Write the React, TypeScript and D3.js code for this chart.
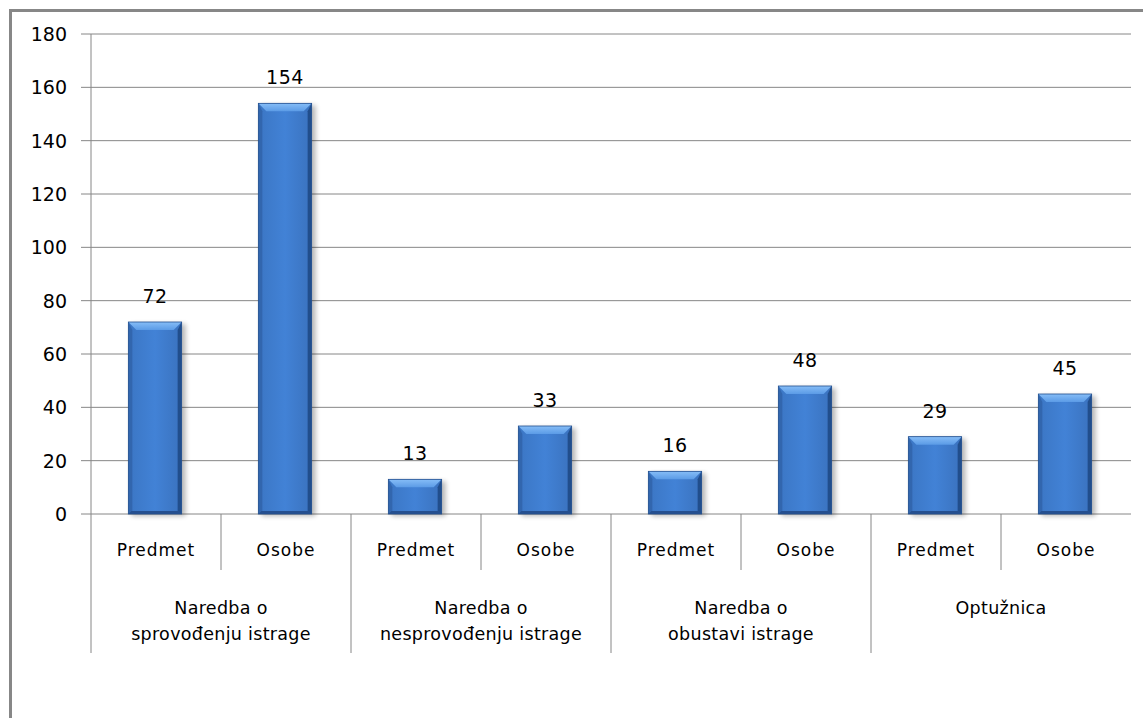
import React from "react";
import * as d3 from "d3";

const groups = ["Naredba o\nsprovođenju istrage", "Naredba o\nnesprovođenju istrage", "Naredba o\nobustavi istrage", "Optužnica"];
const subLabels = ["Predmet", "Osobe"];
const predmetValues = [72, 13, 16, 29];
const osobeValues = [154, 33, 48, 45];
const yTicks = [0, 20, 40, 60, 80, 100, 120, 140, 160, 180];

const W = 1143, H = 718;
const left = 91, right = 1131, top = 34, bottom = 514;
const FONT = "'DejaVu Sans', sans-serif";

export default function App() {
  const items: { key: string; group: number; sub: number; value: number }[] = [];
  groups.forEach((g, gi) => {
    [predmetValues[gi], osobeValues[gi]].forEach((v, si) => {
      items.push({ key: `${gi}-${si}`, group: gi, sub: si, value: v });
    });
  });
  const x = d3.scaleBand<string>().domain(items.map((d) => d.key)).range([left, right]).paddingInner(0.59).paddingOuter(0.295);
  const gx = d3.scaleBand<number>().domain(groups.map((_, i) => i)).range([left, right]);
  const y = d3.scaleLinear().domain([0, 180]).range([bottom, top]);
  const bw = x.bandwidth();
  const grid = "#868686";
  const bev = 8;

  return (
    <svg width={W} height={H} style={{ position: "absolute", left: 0, top: 0, background: "#fff" }}>
      <defs>
        <linearGradient id="barg" x1="0" x2="1" y1="0" y2="0">
          <stop offset="0" stopColor="#3b76c4" />
          <stop offset="0.5" stopColor="#4282d6" />
          <stop offset="1" stopColor="#3a72be" />
        </linearGradient>
        <linearGradient id="topg" x1="0" x2="0" y1="0" y2="1">
          <stop offset="0" stopColor="#86bdf7" />
          <stop offset="1" stopColor="#5b9be6" />
        </linearGradient>
        <filter id="sh" x="-30%" y="-10%" width="160%" height="130%">
          <feGaussianBlur stdDeviation="2.5" />
        </filter>
      </defs>
      <rect x={0} y={0} width={W} height={H} fill="#fff" />
      <rect x={10.5} y={10.5} width={1300} height={900} fill="none" stroke="#878787" strokeWidth={3} />
      {yTicks.map((t) => (
        <g key={t}>
          {t > 0 && <line x1={left} x2={right} y1={y(t)} y2={y(t)} stroke={grid} strokeWidth={1} />}
          <line x1={left - 10} x2={left} y1={y(t)} y2={y(t)} stroke={grid} strokeWidth={1} />
          <text x={67} y={y(t)} dy="0.36em" textAnchor="end" fontFamily={FONT} fontSize={19} fill="#000">{t}</text>
        </g>
      ))}
      <line x1={left} x2={left} y1={top} y2={653} stroke={grid} strokeWidth={1} />
      <line x1={left} x2={right} y1={bottom} y2={bottom} stroke={grid} strokeWidth={1} />
      {groups.map((_, gi) => {
        const gx0 = gx(gi)!;
        return (
          <g key={gi}>
            {gi > 0 && <line x1={gx0} x2={gx0} y1={bottom} y2={653} stroke={grid} strokeWidth={1} />}
            <line x1={gx0 + gx.bandwidth() / 2} x2={gx0 + gx.bandwidth() / 2} y1={bottom} y2={570} stroke={grid} strokeWidth={1} />
          </g>
        );
      })}
      {items.map((d) => {
        const x0 = x(d.key)! - 1;
        const y0 = y(d.value);
        const h = bottom - y0;
        return (
          <g key={d.key}>
            <rect x={x0 + 3} y={y0 + 2} width={bw + 1} height={h} fill="#000" opacity={0.28} filter="url(#sh)" />
            <rect x={x0} y={y0} width={bw} height={h} fill="url(#barg)" />
            <polygon points={`${x0},${y0} ${x0 + bw},${y0} ${x0 + bw - bev},${y0 + bev} ${x0 + bev},${y0 + bev}`} fill="url(#topg)" />
            <polygon points={`${x0},${y0} ${x0 + 4},${y0 + bev} ${x0 + 4},${bottom - 3} ${x0},${bottom}`} fill="#2f62a8" opacity={0.8} />
            <polygon points={`${x0 + bw},${y0} ${x0 + bw - 4},${y0 + bev} ${x0 + bw - 4},${bottom - 3} ${x0 + bw},${bottom}`} fill="#1f4a86" opacity={0.9} />
            <polygon points={`${x0},${bottom} ${x0 + bw},${bottom} ${x0 + bw - 3},${bottom - 3} ${x0 + 3},${bottom - 3}`} fill="#254f8f" />
            <rect x={x0} y={y0} width={bw} height={h} fill="none" stroke="#24508f" strokeWidth={0.8} />
            <text x={x0 + bw / 2} y={y0 - 19} textAnchor="middle" fontFamily={FONT} fontSize={19} fill="#000" letterSpacing={0.5}>{d.value}</text>
          </g>
        );
      })}
      {items.map((d) => (
        <text key={"s" + d.key} x={x(d.key)! + bw / 2} y={556} textAnchor="middle" fontFamily={FONT} fontSize={17} fill="#000" letterSpacing={1}>
          {subLabels[d.sub]}
        </text>
      ))}
      {groups.map((g, gi) => {
        const cx = gx(gi)! + gx.bandwidth() / 2;
        return (
          <text key={"g" + gi} x={cx} y={614} textAnchor="middle" fontFamily={FONT} fontSize={17.5} fill="#000" letterSpacing={0.3}>
            {g.split("\n").map((line, li) => (
              <tspan key={li} x={cx} dy={li === 0 ? 0 : 26}>{line}</tspan>
            ))}
          </text>
        );
      })}
    </svg>
  );
}
